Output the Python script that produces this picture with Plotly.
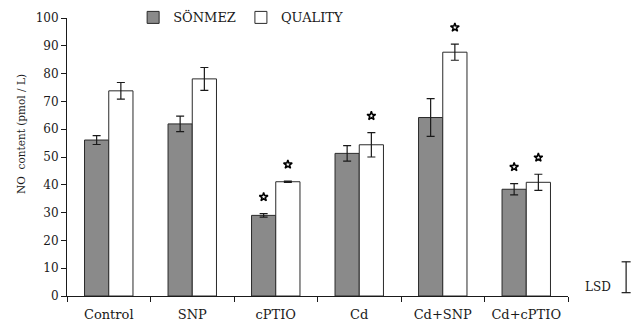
import plotly.graph_objects as go

categories = ["Control", "SNP", "cPTIO", "Cd", "Cd+SNP", "Cd+cPTIO"]
sonmez = [56.1, 61.9, 29.0, 51.3, 64.2, 38.4]
sonmez_err = [1.6, 2.8, 0.6, 2.8, 6.8, 2.0]
quality = [73.8, 78.1, 41.1, 54.4, 87.7, 40.9]
quality_err = [3.0, 4.1, 0.2, 4.4, 2.9, 2.9]
sonmez_star = [False, False, True, False, False, True]
quality_star = [False, False, True, True, True, True]
lsd_base = 1.2
lsd_value = 11.1
y_ticks = [0, 10, 20, 30, 40, 50, 60, 70, 80, 90, 100]
y_max = 100

FONT = "DejaVu Serif"
FS = 12
fig = go.Figure()
fig.add_trace(go.Bar(
    x=categories, y=sonmez, name="SÖNMEZ", offsetgroup="a",
    marker=dict(color="#8a8a8a", line=dict(color="#2a2a2a", width=1)),
    error_y=dict(type="data", array=sonmez_err, color="#1a1a1a", thickness=1.2, width=4),
))
fig.add_trace(go.Bar(
    x=categories, y=quality, name="QUALITY", offsetgroup="b",
    marker=dict(color="white", line=dict(color="#2a2a2a", width=1)),
    error_y=dict(type="data", array=quality_err, color="#1a1a1a", thickness=1.2, width=4),
))

def star_trace(vals, errs, flags, group):
    xs, ys = [], []
    for c, v, e, f in zip(categories, vals, errs, flags):
        xs.append(c)
        ys.append(v + e + 6 if f else None)
    return go.Scatter(x=xs, y=ys, mode="markers", offsetgroup=group, showlegend=False,
                      marker=dict(symbol="star", size=6.5, color="white",
                                  line=dict(color="black", width=1.5)),
                      hoverinfo="skip")

fig.add_trace(star_trace(sonmez, sonmez_err, sonmez_star, "a"))
fig.add_trace(star_trace(quality, quality_err, quality_star, "b"))

# LSD bar (paper coordinates derived from the y range)
lx = 1.116
cap = 0.009
y0p = lsd_base / y_max
y1p = (lsd_base + lsd_value) / y_max
fig.add_shape(type="line", xref="paper", yref="paper", x0=lx, x1=lx, y0=y0p, y1=y1p,
              line=dict(color="#1a1a1a", width=1.2))
for yy in (y0p, y1p):
    fig.add_shape(type="line", xref="paper", yref="paper", x0=lx - cap, x1=lx + cap, y0=yy, y1=yy,
                  line=dict(color="#1a1a1a", width=1.2))
fig.add_annotation(xref="paper", yref="paper", x=1.06, y=0.031, text="LSD", showarrow=False,
                   font=dict(family=FONT, size=FS, color="#1a1a1a"), xanchor="center", yanchor="middle")

# y axis title
fig.add_annotation(xref="paper", yref="paper", x=-0.0918, y=0.583, text="NO  content (pmol / L)",
                   textangle=-90, showarrow=False, xanchor="center", yanchor="middle",
                   font=dict(family=FONT, size=10.5, color="#1a1a1a"))

fig.update_layout(
    width=640, height=329,
    margin=dict(l=59, r=80, t=10, b=41, autoexpand=False),
    paper_bgcolor="white", plot_bgcolor="white",
    barmode="group", bargap=0.42, bargroupgap=0, scattermode="group",
    font=dict(family=FONT, size=FS, color="#1a1a1a"),
    legend=dict(orientation="h", x=0.132, y=1.002, xanchor="left", yanchor="middle",
                font=dict(family=FONT, size=13), traceorder="normal",
                bgcolor="rgba(0,0,0,0)", itemwidth=30),
    showlegend=True,
)
fig.update_xaxes(showline=True, linecolor="#1a1a1a", linewidth=1, ticks="outside", ticklen=5,
                 tickcolor="#1a1a1a", tickson="boundaries", showgrid=False, ticklabelstandoff=6,
                 tickfont=dict(family=FONT, size=13), automargin=False)
fig.update_yaxes(range=[0, y_max], tickvals=y_ticks, showline=True, linecolor="#1a1a1a", linewidth=1,
                 ticks="outside", ticklen=5, tickcolor="#1a1a1a", showgrid=False, zeroline=False,
                 tickfont=dict(family=FONT, size=FS), automargin=False)

fig.write_html("out.html")
